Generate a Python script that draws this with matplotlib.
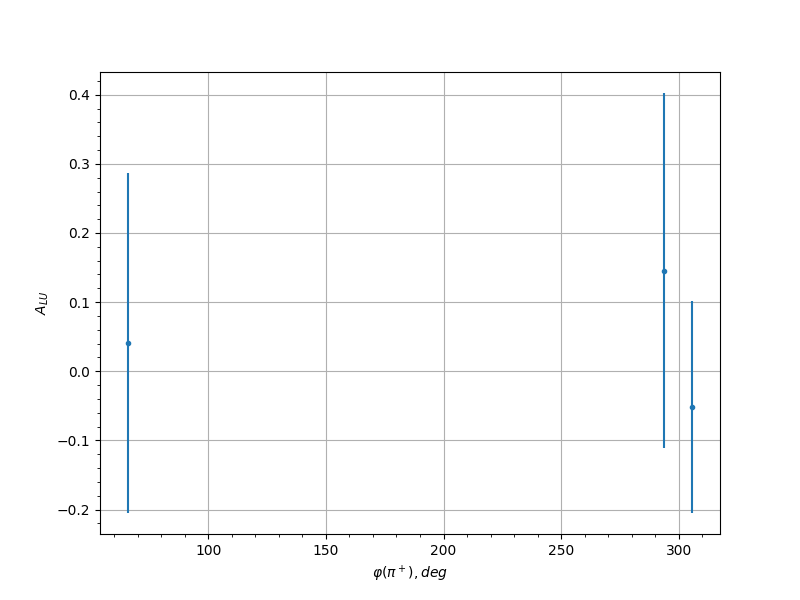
import matplotlib
matplotlib.use("Agg")
import matplotlib.pyplot as plt

phi = [66.0, 293.6, 305.5]
alu = [0.041, 0.1455, -0.052]
err = [0.246, 0.257, 0.153]

fig, ax = plt.subplots(figsize=(8, 6), dpi=100)
ax.errorbar(phi, alu, yerr=err, fmt='.', color='#1f77b4')
ax.grid(True)
ax.minorticks_on()
ax.set_xlabel(r'$\varphi(\pi^+), deg$')
ax.set_ylabel(r'$A_{LU}$')
fig.savefig("out.png", dpi=100)
